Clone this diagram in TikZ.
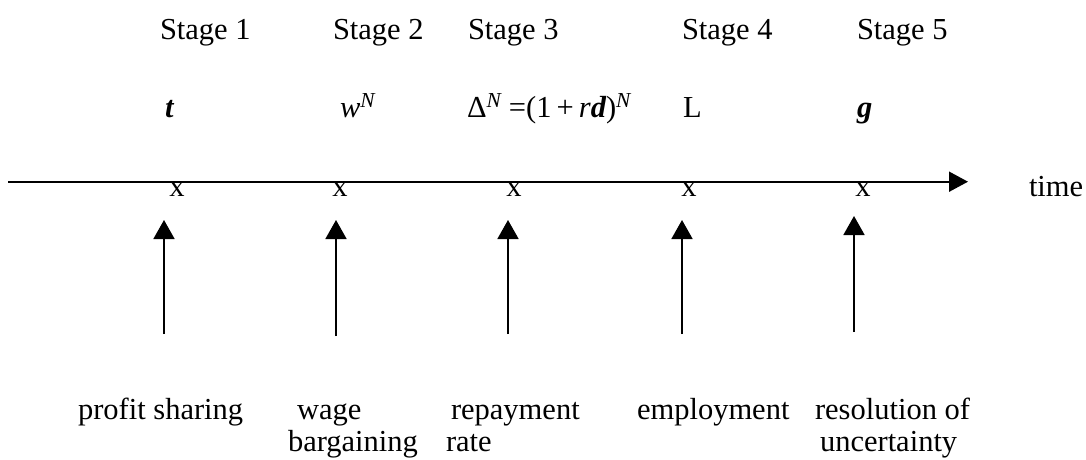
\documentclass[tikz,border=0pt]{standalone}
\usepackage{fontspec}
\setmainfont{Liberation Serif}
\usetikzlibrary{arrows.meta}
\tikzset{
  lbl/.style={anchor=base west, inner sep=0pt, outer sep=0pt},
  tick/.style={anchor=base, inner sep=0pt, outer sep=0pt},
  axis/.style={line width=1.8pt, -{Triangle[length=19pt,width=20pt]}},
  uparrow/.style={line width=1.8pt, -{Triangle[length=19pt,width=21pt]}},
}
\begin{document}
\begin{tikzpicture}[x=1pt,y=-1pt,font=\fontsize{30.5}{36}\selectfont]
\useasboundingbox (0,0) rectangle (1086,459);
% stage labels
\node[lbl] (s1) at (160,39) {Stage 1};
\node[lbl] (s2) at (333,39) {Stage 2};
\node[lbl] (s3) at (468,39) {Stage 3};
\node[lbl] (s4) at (682,39) {Stage 4};
\node[lbl] (s5) at (857,39) {Stage 5};
% variables
\node[lbl] (v1) at (165,117) {\bfseries\itshape t};
\node[lbl] (v2) at (340,117) {\itshape w\textsuperscript{N}};
\node[lbl] (v3) at (467,117) {Δ\textsuperscript{\itshape N} =(1\,+\,{\itshape r}{\bfseries\itshape d})\textsuperscript{\itshape N}};
\node[lbl] (v4) at (683,117) {L};
\node[lbl] (v5) at (857,117) {\bfseries\itshape g};
% time axis
\coordinate (axL) at (8,181.7);
\coordinate (axR) at (968,181.7);
\draw[axis] (axL) -- (axR);
\node[lbl] (time) at (1029,196) {time};
\node[tick] (x1) at (177,196) {x};
\node[tick] (x2) at (340,196) {x};
\node[tick] (x3) at (514,196) {x};
\node[tick] (x4) at (689,196) {x};
\node[tick] (x5) at (863,196) {x};
% up arrows
\coordinate (b1) at (164,334); \coordinate (t1) at (164,220);
\coordinate (b2) at (336,336); \coordinate (t2) at (336,220);
\coordinate (b3) at (508,334); \coordinate (t3) at (508,220);
\coordinate (b4) at (682,334); \coordinate (t4) at (682,220);
\coordinate (b5) at (854,332); \coordinate (t5) at (854,216);
\draw[uparrow] (b1) -- (t1);
\draw[uparrow] (b2) -- (t2);
\draw[uparrow] (b3) -- (t3);
\draw[uparrow] (b4) -- (t4);
\draw[uparrow] (b5) -- (t5);
% descriptions
\node[lbl] (d1) at (78,419) {profit sharing};
\node[lbl] (d2a) at (297,419) {wage};
\node[lbl] (d2b) at (288,451) {bargaining};
\node[lbl] (d3a) at (451,419) {repayment};
\node[lbl] (d3b) at (446,451) {rate};
\node[lbl] (d4) at (637,419) {employment};
\node[lbl] (d5a) at (815,419) {resolution of};
\node[lbl] (d5b) at (820,451) {uncertainty};
\end{tikzpicture}
\end{document}
